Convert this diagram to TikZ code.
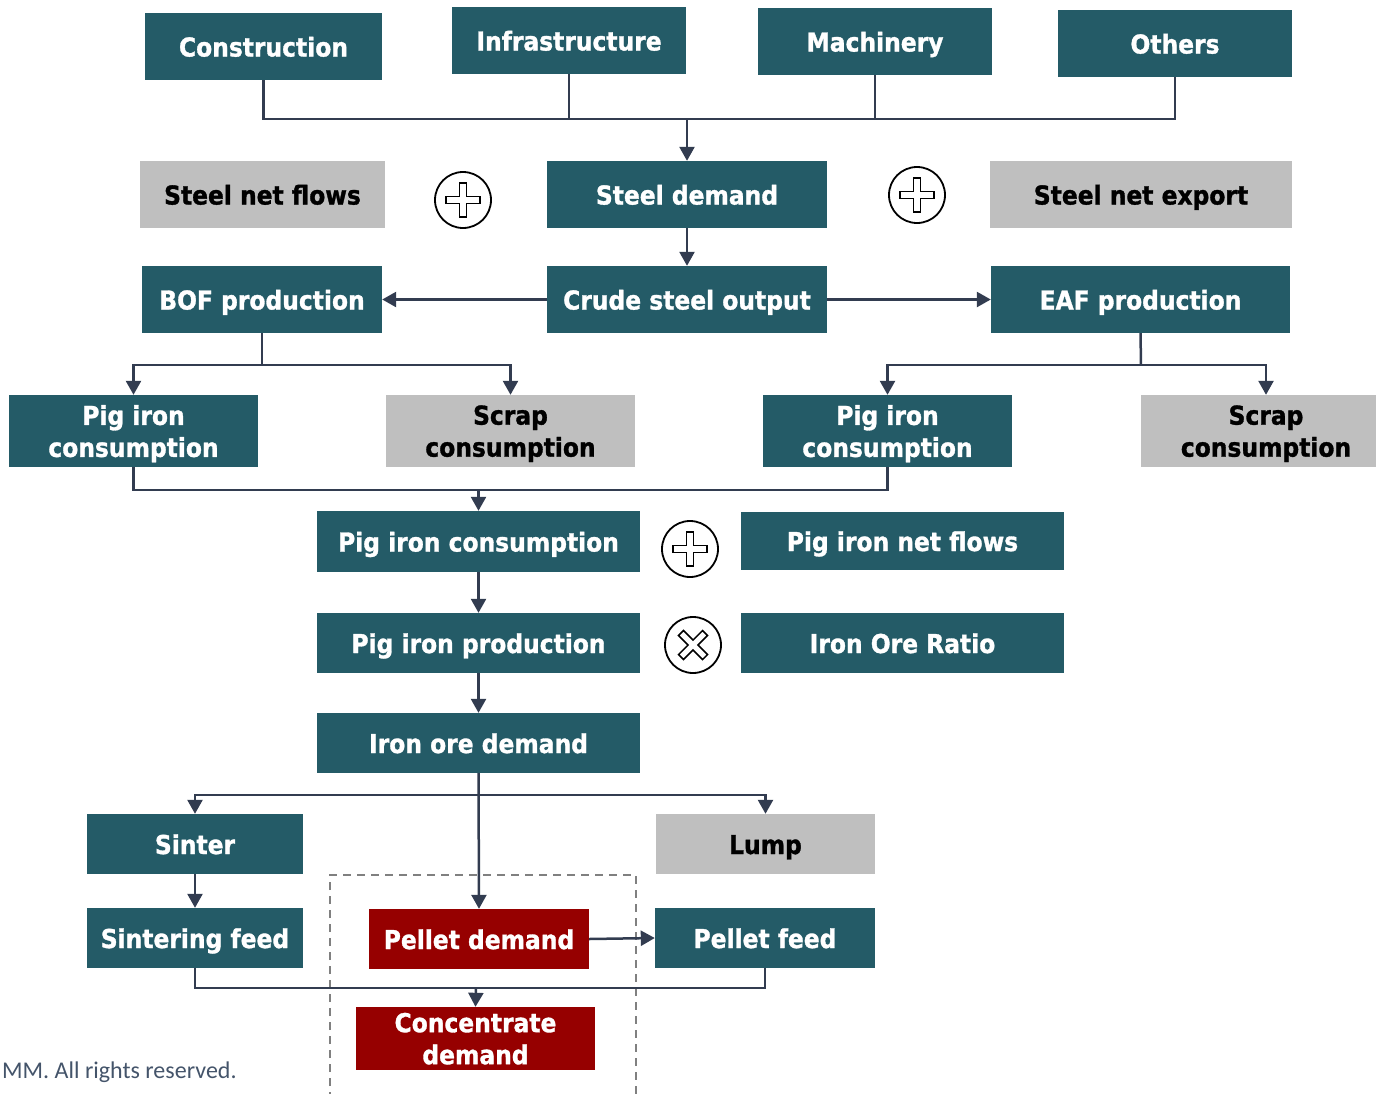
\documentclass[tikz,border=0pt]{standalone}
\usepackage{fontspec}
\setmainfont{DejaVu Sans}
\newfontfamily\boxfont{DejaVu Sans}[FakeStretch=0.9, BoldFeatures={FakeBold=1.2}]
\newfontfamily\footfont{Carlito}
\usetikzlibrary{arrows.meta}
\definecolor{teal1}{RGB}{36,91,103}
\definecolor{gray1}{RGB}{191,191,191}
\definecolor{red1}{RGB}{150,0,0}
\definecolor{line1}{RGB}{50,60,80}
\definecolor{foot}{RGB}{68,84,106}
\definecolor{dash1}{RGB}{128,128,128}
\newcommand\plussym[2][0]{%
  \draw[line width=1.5pt, shift={(#2)}, rotate=#1]
    (-3.5,-17) -- (3.5,-17) -- (3.5,-3.5) -- (17,-3.5) -- (17,3.5) -- (3.5,3.5)
    -- (3.5,17) -- (-3.5,17) -- (-3.5,3.5) -- (-17,3.5) -- (-17,-3.5) -- (-3.5,-3.5) -- cycle;}
\begin{document}
\begin{tikzpicture}[x=1pt,y=-1pt,
  box/.style={inner sep=0pt, align=center, font=\boxfont\bfseries\fontsize{26}{32}\selectfont, text=white, fill=teal1, text height=20pt, text depth=0pt},
  gbox/.style={box, fill=gray1, text=black},
  rbox/.style={box, fill=red1},
  two/.style={text height={}, text depth=0pt},
  sz/.style 2 args={minimum width=#1pt, minimum height=#2pt},
  ln/.style={draw=line1, line width=2.5pt},
  arr/.style={ln, -{Triangle[width=15pt,length=14pt]}},
  op/.style={circle, draw=black, line width=1.8pt, minimum size=56pt, inner sep=0pt},
]
\useasboundingbox (0,0) rectangle (1376,1093);

% dashed frame
\draw[dash1, line width=2pt, dash pattern=on 8pt off 6pt] (330,1100) -- (330,875) -- (636,875) -- (636,1100);

% row 1
\node[box, sz={237}{67}] (constr) at (263.5,46.5) {Construction};
\node[box, sz={234}{67}] (infra) at (569,40.5) {Infrastructure};
\node[box, sz={234}{67}] (mach) at (875,41.5) {Machinery};
\node[box, sz={234}{67}] (oth) at (1175,43.5) {Others};

% row 2
\node[gbox, sz={245}{67}] (snf) at (262.5,194.5) {Steel net flows};
\node[op] (o1) at (463,200) {};
\node[box, sz={280}{67}] (sdem) at (687,194.5) {Steel demand};
\node[op] (o2) at (917,195) {};
\node[gbox, sz={302}{67}] (sne) at (1141,194.5) {Steel net export};
\plussym{o1.center}
\plussym{o2.center}

% row 3
\node[box, sz={240}{67}] (bof) at (262,299.5) {BOF production};
\node[box, sz={280}{67}] (cso) at (687,299.5) {Crude steel output};
\node[box, sz={299}{67}] (eaf) at (1140.5,299.5) {EAF production};

% row 4
\node[box, two, sz={249}{72}] (pi1) at (133.5,431) {Pig iron\\consumption};
\node[gbox, two, sz={249}{72}] (sc1) at (510.5,431) {Scrap\\consumption};
\node[box, two, sz={249}{72}] (pi2) at (887.5,431) {Pig iron\\consumption};
\node[gbox, two, sz={250}{72}] (sc2) at (1266,431) {Scrap\\consumption};

% rows 5-7
\node[box, sz={323}{61}] (pic) at (478.5,541.5) {Pig iron consumption};
\node[op] (o3) at (690,549) {};
\node[box, sz={323}{58}] (pinf) at (902.5,541) {Pig iron net flows};
\node[box, sz={323}{60}] (pip) at (478.5,643) {Pig iron production};
\node[op] (o4) at (693,645) {};
\node[box, sz={323}{60}] (ior) at (902.5,643) {Iron Ore Ratio};
\node[box, sz={323}{60}] (iod) at (478.5,743) {Iron ore demand};
\plussym{o3.center}
\plussym[45]{o4.center}

% rows 8-10
\node[box, sz={216}{60}] (sin) at (195,844) {Sinter};
\node[gbox, sz={219}{60}] (lump) at (765.5,844) {Lump};
\node[box, sz={216}{60}] (sf) at (195,938) {Sintering feed};
\node[rbox, sz={220}{60}] (pd) at (479,939) {Pellet demand};
\node[box, sz={220}{60}] (pf) at (765,938) {Pellet feed};
\node[rbox, two, sz={239}{63}] (conc) at (475.5,1038.5) {Concentrate\\demand};

% footer
\node[anchor=base west, inner sep=0pt, font=\footfont\fontsize{24}{28}\selectfont, text=foot] (ft) at (2,1078) {MM. All rights reserved.};

% connectors
\coordinate (b1) at (687,119);
\draw[ln] (constr.south) -- (constr.south |- b1) -- (oth.south |- b1) -- (oth.south);
\draw[ln] (infra.south) -- (infra.south |- b1);
\draw[ln] (mach.south) -- (mach.south |- b1);
\draw[arr] (b1) -- (sdem.north);
\draw[arr] (sdem.south) -- (cso.north);
\draw[arr] (cso.west) -- (bof.east);
\draw[arr] (cso.east) -- (eaf.west);

\coordinate (b2) at (262,365);
\draw[ln] (bof.south) -- (b2);
\draw[arr] (b2) -| (pi1.north);
\draw[arr] (b2) -| (sc1.north);
\coordinate (b3) at (1141,365);
\draw[ln] (eaf.south) -- (b3);
\draw[arr] (b3) -| (pi2.north);
\draw[arr] (b3) -| (sc2.north);

\coordinate (b4) at (478.5,490);
\draw[ln] (pi1.south) -- (pi1.south |- b4) -- (pi2.south |- b4) -- (pi2.south);
\draw[arr] (b4) -- (pic.north);
\draw[arr] (pic.south) -- (pip.north);
\draw[arr] (pip.south) -- (iod.north);

\coordinate (b7) at (479,795);
\draw[arr] (iod.south) -- (pd.north);
\draw[arr] (b7) -| (sin.north);
\draw[arr] (b7) -| (lump.north);
\draw[arr] (sin.south) -- (sf.north);
\draw[arr] (pd.east) -- (pf.west);

\coordinate (b9) at (476,988);
\draw[ln] (sf.south) -- (sf.south |- b9) -- (pf.south |- b9) -- (pf.south);
\draw[arr] (b9) -- (conc.north);
\end{tikzpicture}
\end{document}
